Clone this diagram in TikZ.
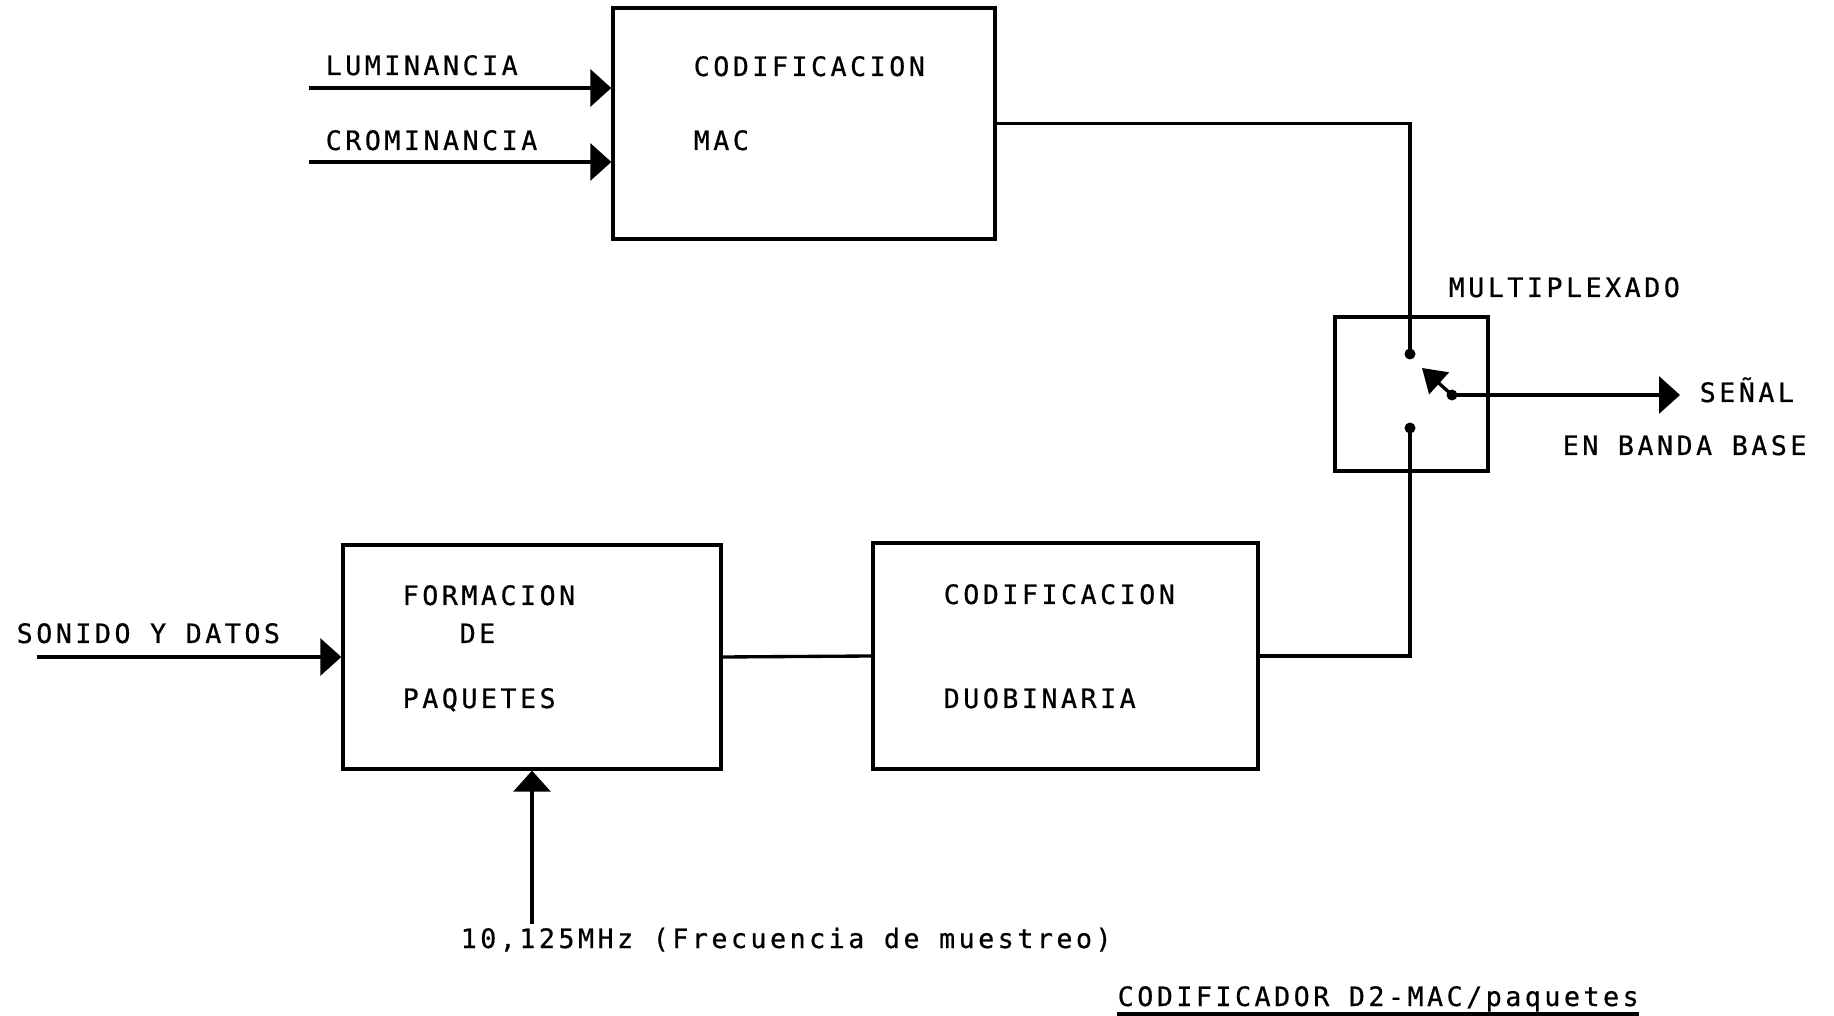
\documentclass[tikz,border=0pt]{standalone}
\usepackage{fontspec}
\newfontfamily\plotfont{DejaVu Sans Mono}[LetterSpace=13,FakeBold=0.6]
\usetikzlibrary{arrows.meta}
\tikzset{
  blk/.style={draw, line width=0.95pt, rectangle, inner sep=0pt},
  lbl/.style={anchor=base west, inner sep=0pt, font=\plotfont\fontsize{7.6pt}{9pt}\selectfont},
  wire/.style={line width=0.95pt},
  arr/.style={wire, -{Triangle[length=2.1mm,width=3.7mm]}},
  armarr/.style={wire, -{Triangle[length=2.3mm,width=2.9mm]}},
  dot/.style={circle, fill, inner sep=0pt, minimum size=1.1mm},
}
\begin{document}
\begin{tikzpicture}[x=0.1mm, y=-0.1mm]
\fill[white] (0,0) rectangle (1834,1016);
\useasboundingbox (0,0) rectangle (1834,1016);

% blocks
\node[blk, minimum width=38.2mm, minimum height=23.1mm] (mac) at (804,123.5) {};
\node[blk, minimum width=15.3mm, minimum height=15.4mm] (mux) at (1411.5,394) {};
\node[blk, minimum width=37.8mm, minimum height=22.4mm] (form) at (532,657) {};
\node[blk, minimum width=38.5mm, minimum height=22.6mm] (duo) at (1065.5,656) {};

% texts inside blocks
\node[lbl] (t1) at (693,76) {CODIFICACION};
\node[lbl] (t2) at (693,150) {MAC};
\node[lbl] (t3) at (402,605) {FORMACION};
\node[lbl] (t4) at (459,643) {DE};
\node[lbl] (t5) at (402,708) {PAQUETES};
\node[lbl] (t6) at (943,604) {CODIFICACION};
\node[lbl] (t7) at (943,708) {DUOBINARIA};

% outside labels
\node[lbl] (l1) at (325,75) {LUMINANCIA};
\node[lbl] (l2) at (325,150) {CROMINANCIA};
\node[lbl] (l3) at (16,643) {SONIDO Y DATOS};
\node[lbl] (l4) at (1448,297) {MULTIPLEXADO};
\node[lbl] (l5) at (1699,402) {SEÑAL};
\node[lbl] (l6) at (1562,455) {EN BANDA BASE};
\node[lbl] (l7) at (460,948) {10,125MHz (Frecuencia de muestreo)};
\node[lbl] (l8) at (1117,1006) {CODIFICADOR D2-MAC/paquetes};
\draw[wire] (l8.base west) ++(0,8) coordinate (ul1) -- (ul1 -| l8.east);

% switch
\node[dot] (ct) at (1410,354) {};
\node[dot] (cb) at (1410,428) {};
\node[dot] (piv) at (1452,395) {};
\coordinate (tip) at (1422,368);
\coordinate (outE) at (1680,395);
\draw[armarr] (piv.center) -- (tip);
\draw[arr] (piv.center) -- (outE);

% inputs
\coordinate (lumS) at (309,88);
\coordinate (croS) at (309,162);
\coordinate (sonS) at (37,657);
\coordinate (clkS) at (532,924);
\draw[arr] (lumS) -- (lumS -| mac.west);
\draw[arr] (croS) -- (croS -| mac.west);
\draw[arr] (sonS) -- (form.west);
\draw[arr] (clkS) -- (form.south);

% connections
\draw[wire] (mac.east) -| (ct.center);
\draw[wire] (duo.east) -| (cb.center);
\draw[wire] (form.east) -- (duo.west);
\end{tikzpicture}
\end{document}
